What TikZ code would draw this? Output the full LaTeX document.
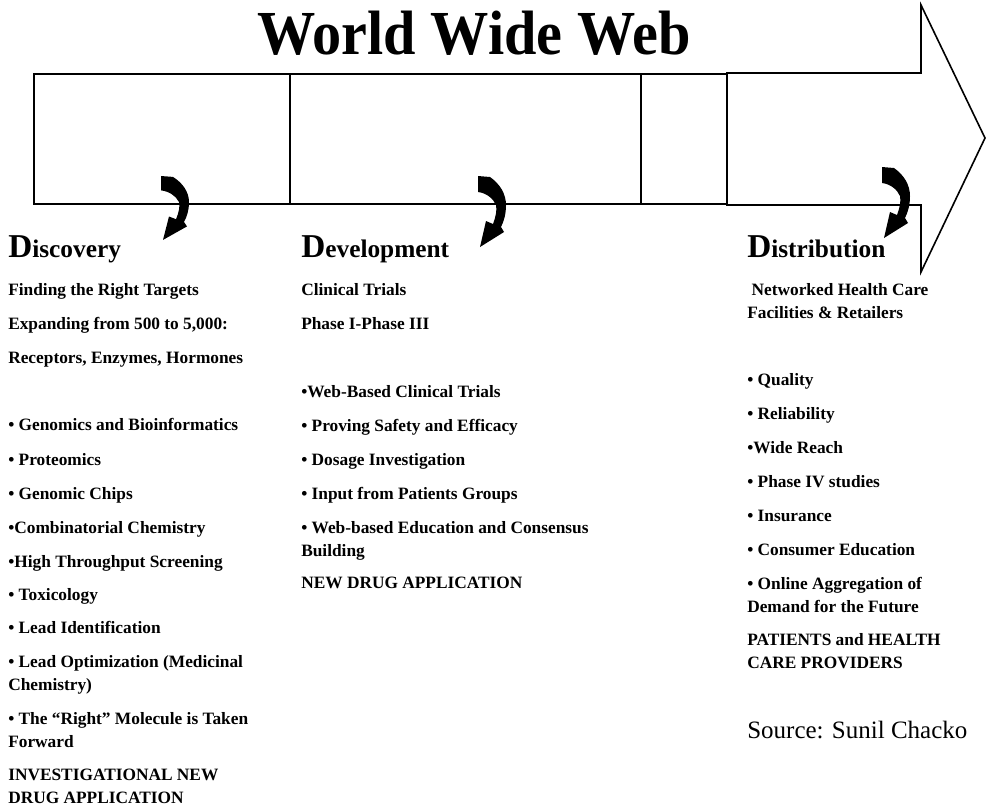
\documentclass[tikz,border=0pt]{standalone}
\usepackage{fontspec}
\setmainfont{Liberation Serif}
\definecolor{inkcolor}{RGB}{0,0,0}
\tikzset{
  stagebox/.style={draw=inkcolor, line width=1.5pt},
  webarrow/.style={draw=inkcolor, line width=1.2pt, line join=miter},
  webtitle/.style={anchor=base, inner sep=0pt,
                   font=\fontsize{47}{50}\selectfont\bfseries},
  phase/.style={anchor=base west, inner sep=0pt, font=\bfseries},
  % two-line items sit on the baseline of their last line
  item/.style={anchor=base west, inner sep=0pt, align=left,
               font=\fontsize{13}{17.25}\selectfont\bfseries},
  source/.style={anchor=base west, inner sep=0pt,
                 font=\fontsize{18.75}{22}\selectfont},
  % bent block arrow hanging off the bottom of each stage
  curlarrow/.pic={
    \fill[inkcolor] (0,0) -- (12,1)
      .. controls (22,8) and (28,18) .. (28,29)
      .. controls (28,38) and (26,45) .. (23,51)
      -- (26,56) -- (2,71) -- (8,45) -- (15,48)
      .. controls (18,40) and (19,34) .. (18,29)
      .. controls (15,22) and (8,17) .. (0,16) -- cycle;
  },
}
\newcommand{\phasename}[2]{{\fontsize{25}{28}\selectfont #1}{\fontsize{19}{22}\selectfont #2}}

\begin{document}
\begin{tikzpicture}[x=0.75pt, y=-0.75pt]
  \useasboundingbox (0,0) rectangle (988,808);

  % Title
  \node[webtitle] (web) at (474,54) {\scalebox{0.93}[1]{World Wide Web}};

  % Stage boxes
  \draw[stagebox] (34,74) rectangle (727,204);
  \draw[stagebox] (290,74) -- (290,204);
  \draw[stagebox] (641,74) -- (641,204);

  % Big arrow
  \draw[webarrow] (727,73) -- (921,73) -- (921,5) -- (985,138)
    -- (921,272) -- (921,205) -- (727,205) -- cycle;

  % Curled arrows
  \pic[yscale=0.9] at (161,176) {curlarrow};
  \pic at (478,176) {curlarrow};
  \pic at (882,167) {curlarrow};

  % Discovery
  \node[phase] (disc) at (8,257) {\phasename{D}{iscovery}};
  \node[item] (disc1) at (8,295) {Finding the Right Targets};
  \node[item] (disc2) at (8,329) {Expanding from 500 to 5,000:};
  \node[item] (disc3) at (8,363) {Receptors, Enzymes, Hormones};
  \node[item] (disc4) at (8,430) {• Genomics and Bioinformatics};
  \node[item] (disc5) at (8,465) {• Proteomics};
  \node[item] (disc6) at (8,499) {• Genomic Chips};
  \node[item] (disc7) at (8,533) {•Combinatorial Chemistry};
  \node[item] (disc8) at (8,567) {•High Throughput Screening};
  \node[item] (disc9) at (8,600) {• Toxicology};
  \node[item] (disc10) at (8,633) {• Lead Identification};
  \node[item] (disc11) at (8,690) {• Lead Optimization (Medicinal\\Chemistry)};
  \node[item] (disc12) at (8,747) {• The “Right” Molecule is Taken\\Forward};
  \node[item] (disc13) at (8,803) {INVESTIGATIONAL NEW\\DRUG APPLICATION};

  % Development
  \node[phase] (dev) at (301,257) {\phasename{D}{evelopment}};
  \node[item] (dev1) at (301,295) {Clinical Trials};
  \node[item] (dev2) at (301,329) {Phase I-Phase III};
  \node[item] (dev3) at (301,397) {•Web-Based Clinical Trials};
  \node[item] (dev4) at (301,431) {• Proving Safety and Efficacy};
  \node[item] (dev5) at (301,465) {• Dosage Investigation};
  \node[item] (dev6) at (301,499) {• Input from Patients Groups};
  \node[item] (dev7) at (301,556) {• Web-based Education and Consensus\\Building};
  \node[item] (dev8) at (301,588) {NEW DRUG APPLICATION};

  % Distribution
  \node[phase] (dist) at (747,257) {\phasename{D}{istribution}};
  \node[item] (dist1) at (747,318) {\ Networked Health Care\\Facilities \& Retailers};
  \node[item] (dist2) at (747,385) {• Quality};
  \node[item] (dist3) at (747,419) {• Reliability};
  \node[item] (dist4) at (747,453) {•Wide Reach};
  \node[item] (dist5) at (747,487) {• Phase IV studies};
  \node[item] (dist6) at (747,521) {• Insurance};
  \node[item] (dist7) at (747,555) {• Consumer Education};
  \node[item] (dist8) at (747,612) {• Online Aggregation of\\Demand for the Future};
  \node[item] (dist9) at (747,668) {PATIENTS and HEALTH\\CARE PROVIDERS};

  \node[source] (src) at (747,738) {Source: Sunil Chacko};
\end{tikzpicture}
\end{document}
